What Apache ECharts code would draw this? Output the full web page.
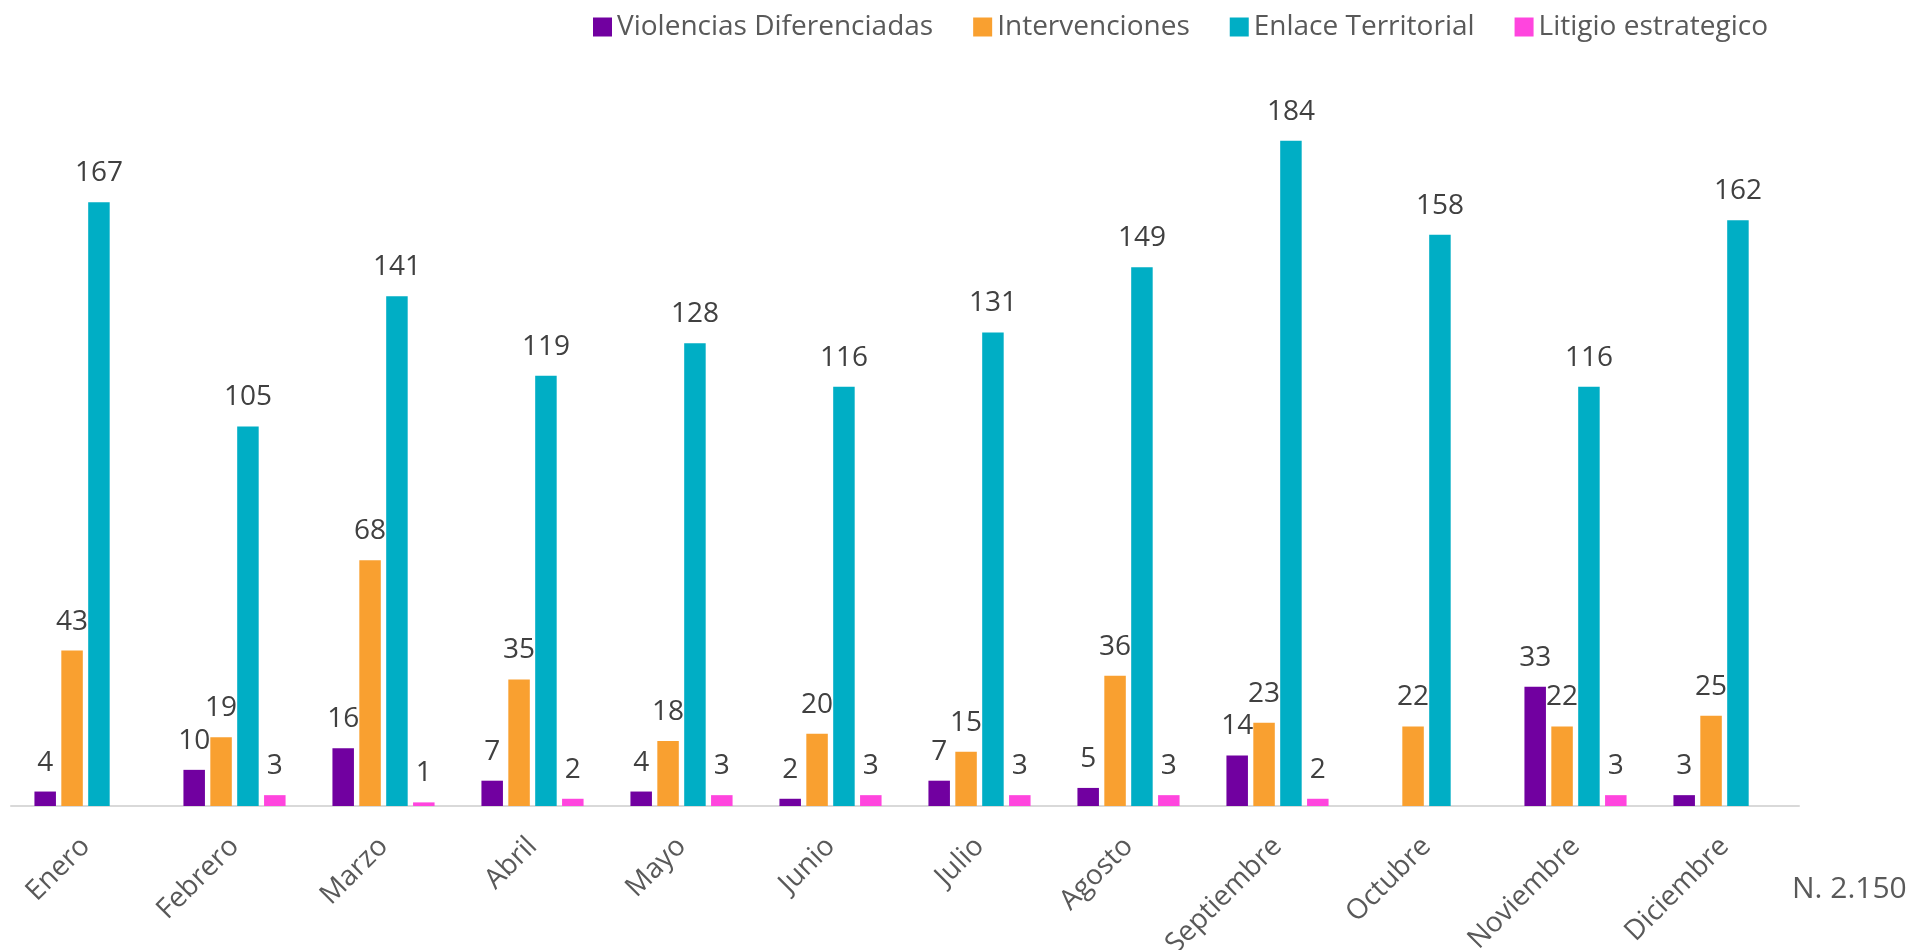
<!DOCTYPE html>
<html>
<head>
<meta charset="utf-8">
<script src="https://cdn.jsdelivr.net/npm/echarts@6/dist/echarts.min.js"></script>
<style>
html,body{margin:0;padding:0;background:#fff;}
#c{width:1928px;height:950px;}
</style>
</head>
<body>
<div id="c"></div>
<script>
var months = ['Enero','Febrero','Marzo','Abril','Mayo','Junio','Julio','Agosto','Septiembre','Octubre','Noviembre','Diciembre'];
var seriesNames = ['Violencias Diferenciadas','Intervenciones','Enlace Territorial','Litigio estrategico'];
var violencias = [4,10,16,7,4,2,7,5,14,null,33,3];
var intervenciones = [43,19,68,35,18,20,15,36,23,22,22,25];
var enlace = [167,105,141,119,128,116,131,149,184,158,116,162];
var litigio = [null,3,1,2,3,3,3,3,2,null,3,null];
var colors = ['#7100A0','#F9A030','#00AEC5','#FF45DE'];
var totalText = 'N. 2.150';

var FONT = '"Open Sans", "Noto Sans", sans-serif';
var chart = echarts.init(document.getElementById('c'));
var datasets = [violencias, intervenciones, enlace, litigio];
var series = datasets.map(function(d, i){
  return {
    name: seriesNames[i],
    type: 'bar',
    data: d.map(function(v){ return v === null ? '-' : v; }),
    barWidth: 21.5,
    barGap: '25%',
    itemStyle: {color: colors[i]},
    label: {
      show: true,
      position: 'top',
      distance: 15,
      color: '#404040',
      fontFamily: FONT,
      fontSize: 28
    }
  };
});
chart.setOption({
  animation: false,
  backgroundColor: '#ffffff',
  color: colors,
  legend: {
    left: 588,
    top: 8,
    itemWidth: 19,
    itemHeight: 19,
    itemGap: 40,
    icon: 'rect',
    textStyle: {color: '#595959', fontFamily: FONT, fontSize: 28},
    data: seriesNames
  },
  grid: {left: 11, right: 129, top: 83, bottom: 144, containLabel: false, outerBoundsMode: 'none'},
  xAxis: {
    type: 'category',
    data: months,
    axisLine: {lineStyle: {color: '#D9D9D9', width: 2}},
    axisTick: {show: false},
    axisLabel: {
      rotate: 45,
      margin: 36,
      interval: 0,
      color: '#595959',
      fontFamily: FONT,
      fontSize: 28
    }
  },
  yAxis: {
    type: 'value',
    min: 0,
    max: 200,
    show: false,
    splitLine: {show: false}
  },
  graphic: [{
    type: 'text',
    left: 1792,
    top: 874,
    style: {text: totalText, fill: '#595959', font: '30px ' + FONT}
  }],
  series: series
});
</script>
</body>
</html>
